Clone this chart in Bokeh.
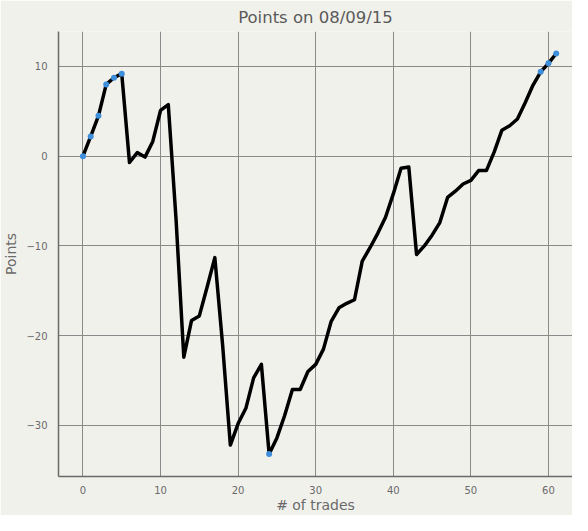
from bokeh.plotting import figure
from bokeh.embed import file_html
from bokeh.resources import INLINE
from bokeh.models import FixedTicker, Range1d

trades = list(range(62))
points = [0, 2.2, 4.5, 8.0, 8.75, 9.2, -0.7, 0.4, -0.1, 1.65, 5.1, 5.75,
          -7.0, -22.4, -18.3, -17.8, -14.6, -11.3, -21.0, -32.2, -29.8, -28.1, -24.7, -23.2,
          -33.2, -31.4, -28.9, -26.0, -26.0, -24.0, -23.2, -21.5, -18.4, -16.9, -16.4, -16.0,
          -11.7, -10.2, -8.6, -6.8, -4.2, -1.35, -1.2, -10.95, -10.0, -8.8, -7.4, -4.6,
          -3.9, -3.1, -2.7, -1.6, -1.6, 0.45, 2.9, 3.4, 4.15, 5.95, 7.9, 9.4, 10.35, 11.45]
marked_idx = [0, 1, 2, 3, 4, 5, 24, 59, 60, 61]
marked_x = [trades[i] for i in marked_idx]
marked_y = [points[i] for i in marked_idx]

x_ticks = [0, 10, 20, 30, 40, 50, 60]
y_ticks = [-30, -20, -10, 0, 10]

BG = "#f1f1ec"
FONT = "DejaVu Sans"

p = figure(width=572, height=515, output_backend="svg", toolbar_location=None,
           title="Points on 08/09/15",
           x_range=Range1d(-3.15, 63.1), y_range=Range1d(-35.7, 13.9),
           min_border_left=40, min_border_right=0, min_border_top=0, min_border_bottom=20)
p.background_fill_color = BG
p.border_fill_color = BG
p.outline_line_color = None

p.title.align = "center"
p.title.text_font = FONT
p.title.text_font_size = "16.5px"
p.title.text_font_style = "normal"
p.title.text_color = "#5a5a5a"
p.title.standoff = 10

p.line(trades, points, line_color="black", line_width=3.5, line_join="round")
p.scatter(marked_x, marked_y, size=6, fill_color="#3d8fdc", line_color=None)

for ax in (p.xaxis[0], p.yaxis[0]):
    ax.axis_line_color = "#6a6a6a"
    ax.axis_line_width = 1.5
    ax.major_tick_line_color = None
    ax.minor_tick_line_color = None
    ax.major_label_text_font = FONT
    ax.major_label_text_font_size = "10px"
    ax.major_label_text_color = "#6a6a6a"
    ax.axis_label_text_font = FONT
    ax.axis_label_text_font_size = "14px"
    ax.axis_label_text_font_style = "normal"
    ax.axis_label_text_color = "#6a6a6a"

p.xaxis[0].ticker = FixedTicker(ticks=x_ticks)
p.yaxis[0].ticker = FixedTicker(ticks=y_ticks)
p.xaxis[0].axis_label = "# of trades"
p.yaxis[0].axis_label = "Points"
p.xaxis[0].major_label_standoff = 3
p.xaxis[0].axis_label_standoff = 0
p.yaxis[0].major_label_standoff = 5
p.yaxis[0].axis_label_standoff = 4

p.grid.grid_line_color = "#8a8a8a"
p.grid.grid_line_width = 1

open("out.html", "w").write(file_html(p, INLINE))
